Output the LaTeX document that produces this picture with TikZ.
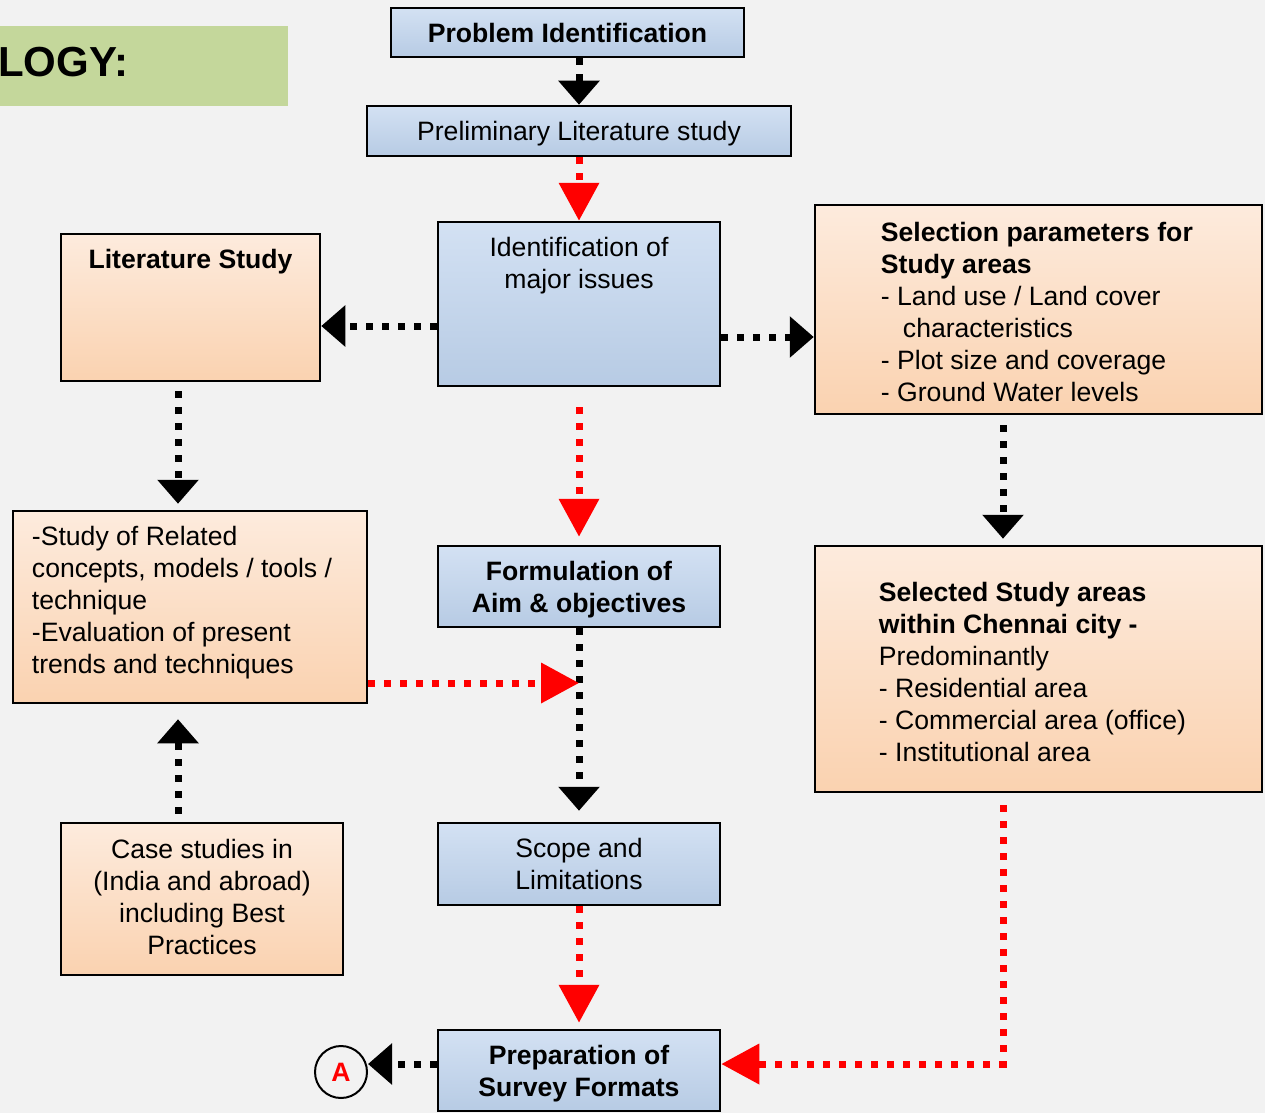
\documentclass[tikz,border=0pt]{standalone}
\usepackage{fontspec}
\setmainfont{Liberation Sans}
\usetikzlibrary{positioning,arrows.meta}

\definecolor{pagegray}{HTML}{F2F2F2}
\definecolor{titlegreen}{HTML}{C4D79B}
\definecolor{bluetop}{HTML}{D3E1F3}
\definecolor{bluebot}{HTML}{B7CBE4}
\definecolor{orgtop}{HTML}{FDEBDD}
\definecolor{orgbot}{HTML}{FAD2B0}

\newcommand{\bodyfont}{\fontsize{26.6}{32}\selectfont}

\tikzset{
  box/.style={draw, line width=2.5pt, inner sep=0pt, align=center, text depth=0pt,
    font=\bodyfont},
  bluebox/.style={box, top color=bluetop, bottom color=bluebot},
  orgbox/.style={box, top color=orgtop, bottom color=orgbot},
  txt/.style={inner sep=0pt, align=left, font=\bodyfont},
  blkflow/.style={line width=7pt, dash pattern=on 7pt off 9pt,
    -{Triangle[width=40pt,length=24pt]}},
  redflow/.style={line width=7pt, dash pattern=on 7pt off 9pt, red,
    -{Triangle[width=39pt,length=38pt]}},
}

\begin{document}
\begin{tikzpicture}[x=1pt, y=-1pt]
  \useasboundingbox (0,0) rectangle (1265,1113);
  \fill[pagegray] (0,0) rectangle (1265,1113);

  % title strip
  \node[fill=titlegreen, inner sep=0pt, minimum width=288pt, minimum height=80pt,
    anchor=north west] (titlebar) at (0,26) {};
  \node[anchor=base west, inner sep=0pt, font=\fontsize{42}{50}\selectfont\bfseries]
    (title) at (-2,77) {LOGY:};

  % middle column
  \node[bluebox, minimum width=353pt, minimum height=49pt] (probid) at (567.5,32.5)
    {\textbf{Problem Identification}};
  \node[bluebox, minimum width=424pt, minimum height=50pt] (prelim) at (579,131)
    {Preliminary Literature study};
  \node[bluebox, minimum width=282pt, minimum height=164pt] (issues) at (579,304) {};
  \node[txt, align=center, below=16pt of issues.north] (issuestxt)
    {Identification of\\major issues};
  \node[bluebox, minimum width=282pt, minimum height=81pt] (aim) at (579,586.5)
    {\textbf{Formulation of}\\\textbf{Aim \& objectives}};
  \node[bluebox, minimum width=282pt, minimum height=82pt] (scope) at (579,864)
    {Scope and\\Limitations};
  \node[bluebox, minimum width=282pt, minimum height=81pt] (prep) at (579,1070.5)
    {\textbf{Preparation of}\\\textbf{Survey Formats}};
  \node[draw, circle, line width=2pt, minimum size=52pt, inner sep=0pt, text=red,
    font=\bodyfont\bfseries] (ptA) at (341,1072) {A};

  % left column
  \node[orgbox, minimum width=259pt, minimum height=147pt] (litstudy) at (190.5,307.5) {};
  \node[txt, below=16pt of litstudy.north] (littxt) {\textbf{Literature Study}};
  \node[orgbox, minimum width=354pt, minimum height=192pt] (relstudy) at (190,607) {};
  \node[txt, below right=16pt and 20pt of relstudy.north west] (reltxt)
    {-Study of Related\\concepts, models / tools /\\technique\\-Evaluation of present\\trends and techniques};
  \node[orgbox, text depth=5pt, minimum width=282pt, minimum height=152pt] (cases) at (202,899)
    {Case studies in\\(India and abroad)\\including Best\\Practices};

  % right column
  \node[orgbox, minimum width=447pt, minimum height=209pt] (selpar) at (1038.5,309.5) {};
  \node[txt, below right=18pt and 67pt of selpar.north west] (selpartxt)
    {\textbf{Selection parameters for}\\\textbf{Study areas}\\- Land use / Land cover\\
     \hspace*{22pt}characteristics\\- Plot size and coverage\\- Ground Water levels};
  \node[orgbox, minimum width=447pt, minimum height=246pt] (selareas) at (1038.5,669) {};
  \node[txt, below right=37pt and 65pt of selareas.north west] (selareastxt)
    {\textbf{Selected Study areas}\\\textbf{within Chennai city -}\\Predominantly\\
     - Residential area\\- Commercial area (office)\\- Institutional area};

  % flows
  \coordinate (junc) at ([yshift=-76pt]relstudy.east -| aim.south);
  \draw[blkflow] (probid.south -| prelim.north) -- (prelim.north);
  \draw[redflow] (prelim.south) -- (issues.north);
  \draw[blkflow] ([yshift=-22pt]issues.west) -- ([yshift=-22pt]issues.west -| litstudy.east);
  \draw[blkflow] ([yshift=-33pt]issues.east) -- ([yshift=-33pt]issues.east -| selpar.west);
  \draw[redflow, shorten >=8pt] ([yshift=-20pt]issues.south) -- (aim.north);
  \draw[blkflow, shorten >=6pt] ([xshift=-12.5pt,yshift=-9pt]litstudy.south)
    -- ([xshift=-12.5pt]litstudy.south |- relstudy.north);
  \draw[blkflow, shorten >=6pt] ([xshift=-35.5pt,yshift=-10pt]selpar.south)
    -- ([xshift=-35.5pt]selpar.south |- selareas.north);
  \draw[blkflow, shorten >=11pt] (aim.south) -- (scope.north);
  \draw[redflow] ([yshift=-76pt]relstudy.east) -- (junc);
  \draw[blkflow, shorten >=15pt] ([xshift=-24pt,yshift=8pt]cases.north)
    -- ([xshift=-24pt]cases.north |- relstudy.south);
  \draw[redflow, shorten >=6pt] (scope.south) -- (prep.north);
  \draw[redflow] ([xshift=-35.5pt,yshift=-12pt]selareas.south) |- ([yshift=6.5pt]prep.east);
  \draw[blkflow] ([yshift=6.5pt]prep.west) -- ([yshift=6.5pt]prep.west -| ptA.east);
\end{tikzpicture}
\end{document}
